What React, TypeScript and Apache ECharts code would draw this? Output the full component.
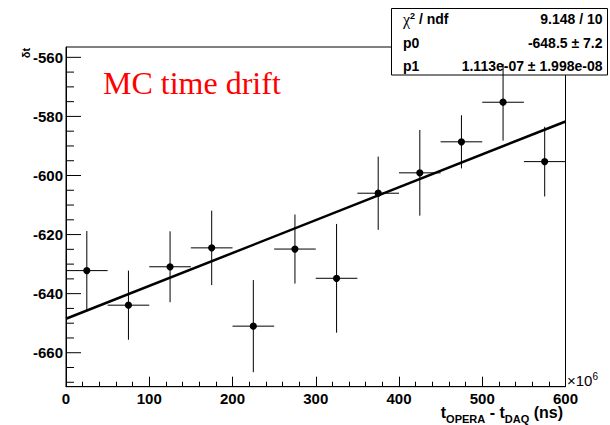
import React, { useEffect, useRef } from "react";
import * as echarts from "echarts";

// ---- data ----
const xCenters = [25, 75, 125, 175, 225, 275, 325, 375, 425, 475, 525, 575];
const xHalfWidth = 25;
const yValues = [-632.2, -643.9, -630.9, -624.5, -651.0, -624.9, -634.8, -606.0, -599.1, -588.6, -575.2, -595.3];
const yErrors = [13.4, 11.7, 12.0, 12.6, 15.6, 11.7, 18.4, 12.4, 14.5, 9.0, 13.0, 11.8];
const fitX = [0, 600];
const fitY = [-648.5, -581.72];
const yTickLabels = [-560, -580, -600, -620, -640, -660];
const yMinorStep = 5;
const yMin = -671.5;
const yMax = -556.5;
const statsLeft = ["{g|χ}{s|2}{b| / ndf}", "p0", "p1"];
const statsRight = ["9.148 / 10", "-648.5 ± 7.2", "1.113e-07 ± 1.998e-08"];

const SANS = "Liberation Sans, Arial, sans-serif";
const SERIF = "Liberation Serif, Times New Roman, serif";

export default function App() {
  const ref = useRef<HTMLDivElement>(null);

  useEffect(() => {
    if (!ref.current) return;
    const chart = echarts.init(ref.current, undefined, { renderer: "svg" });

    const minorTicks: number[] = [];
    for (let v = -670; v <= -560; v += yMinorStep) {
      if (v % 20 !== 0) minorTicks.push(v);
    }

    const statsChildren: any[] = [
      {
        type: "rect",
        shape: { x: 391.5, y: 8.5, width: 216, height: 66.5 },
        style: { fill: "#fff", stroke: "#000", lineWidth: 1 },
      },
    ];
    const rowY = [19, 42.5, 65.5];
    statsLeft.forEach((t, i) => {
      statsChildren.push({
        type: "text",
        style: {
          text: t,
          x: 403,
          y: rowY[i],
          align: "left",
          verticalAlign: "middle",
          fontSize: 14,
          fontWeight: "bold",
          fontFamily: SANS,
          fill: "#000",
          rich: {
            g: { fontFamily: SERIF, fontSize: 16, fontWeight: "normal", fill: "#000" },
            s: { fontFamily: SANS, fontSize: 9, fontWeight: "bold", fill: "#000", verticalAlign: "top", lineHeight: 12 },
            b: { fontFamily: SANS, fontSize: 14, fontWeight: "bold", fill: "#000" },
          },
        },
      });
    });
    statsRight.forEach((t, i) => {
      statsChildren.push({
        type: "text",
        style: {
          text: t,
          x: 602.5,
          y: rowY[i],
          align: "right",
          verticalAlign: "middle",
          fontSize: 14,
          fontWeight: "bold",
          fontFamily: SANS,
          fill: "#000",
        },
      });
    });

    const option: any = {
      animation: false,
      backgroundColor: "#fff",
      grid: {
        left: 66,
        right: 44.5,
        top: 47,
        bottom: 38.3,
        show: true,
        borderColor: "#000",
        borderWidth: 1,
        backgroundColor: "#fff",
      },
      xAxis: {
        type: "value",
        min: 0,
        max: 600,
        interval: 100,
        axisLine: { show: true, onZero: false, lineStyle: { color: "#000", width: 1 } },
        axisTick: { show: true, inside: true, length: 10, lineStyle: { color: "#000" } },
        minorTick: { show: true, splitNumber: 5, length: 5, lineStyle: { color: "#000" } },
        splitLine: { show: false },
        minorSplitLine: { show: false },
        axisLabel: {
          show: true,
          margin: 4,
          color: "#000",
          fontFamily: SANS,
          fontWeight: "bold",
          fontSize: 15,
          showMinLabel: true,
          showMaxLabel: true,
        },
      },
      yAxis: {
        type: "value",
        min: yMin,
        max: yMax,
        axisLine: { show: true, onZero: false, lineStyle: { color: "#000", width: 1 } },
        axisTick: { show: false },
        axisLabel: { show: false },
        splitLine: { show: false },
      },
      series: [
        {
          type: "custom",
          name: "yMajor",
          silent: true,
          clip: false,
          z: 3,
          data: yTickLabels.map((v) => [0, v]),
          renderItem: (params: any, api: any) => {
            const v = api.value(1);
            const p = api.coord([0, v]);
            return {
              type: "group",
              children: [
                {
                  type: "line",
                  shape: { x1: p[0], y1: p[1], x2: p[0] + 15, y2: p[1] },
                  style: { stroke: "#000", lineWidth: 1 },
                },
                {
                  type: "text",
                  style: {
                    text: String(v),
                    x: p[0] - 3,
                    y: p[1],
                    align: "right",
                    verticalAlign: "middle",
                    fontSize: 15,
                    fontWeight: "bold",
                    fontFamily: SANS,
                    fill: "#000",
                  },
                },
              ],
            };
          },
        },
        {
          type: "custom",
          name: "yMinor",
          silent: true,
          clip: false,
          z: 3,
          data: minorTicks.map((v) => [0, v]),
          renderItem: (params: any, api: any) => {
            const p = api.coord([0, api.value(1)]);
            return {
              type: "line",
              shape: { x1: p[0], y1: p[1], x2: p[0] + 8, y2: p[1] },
              style: { stroke: "#000", lineWidth: 1 },
            };
          },
        },
        {
          type: "line",
          name: "fit",
          data: fitX.map((x, i) => [x, fitY[i]]),
          showSymbol: false,
          symbol: "none",
          lineStyle: { color: "#000", width: 2.5 },
          z: 4,
          silent: true,
        },
        {
          type: "custom",
          name: "data",
          silent: true,
          z: 5,
          clip: false,
          data: xCenters.map((x, i) => [x, yValues[i], yErrors[i]]),
          encode: { x: 0, y: 1 },
          renderItem: (params: any, api: any) => {
            const x = api.value(0);
            const y = api.value(1);
            const e = api.value(2);
            const c = api.coord([x, y]);
            const l = api.coord([x - xHalfWidth, y]);
            const r = api.coord([x + xHalfWidth, y]);
            const t = api.coord([x, y + e]);
            const b = api.coord([x, y - e]);
            return {
              type: "group",
              children: [
                {
                  type: "line",
                  shape: { x1: l[0], y1: c[1], x2: r[0], y2: c[1] },
                  style: { stroke: "#000", lineWidth: 1 },
                },
                {
                  type: "line",
                  shape: { x1: c[0], y1: t[1], x2: c[0], y2: b[1] },
                  style: { stroke: "#000", lineWidth: 1 },
                },
                {
                  type: "circle",
                  shape: { cx: c[0], cy: c[1], r: 3.6 },
                  style: { fill: "#000" },
                },
              ],
            };
          },
        },
      ],
      graphic: {
        elements: [
          {
            type: "text",
            z: 50,
            style: {
              text: "MC time drift",
              x: 103,
              y: 83,
              align: "left",
              verticalAlign: "middle",
              fontFamily: SERIF,
              fontSize: 32,
              fill: "#ff0000",
            },
          },
          {
            type: "text",
            z: 50,
            x: 26,
            y: 53,
            rotation: Math.PI / 2,
            style: {
              text: "δt",
              x: 0,
              y: 0,
              align: "center",
              verticalAlign: "middle",
              fontFamily: SANS,
              fontSize: 11,
              fontWeight: "bold",
              fill: "#000",
            },
          },
          {
            type: "text",
            z: 50,
            style: {
              text: "{m|t}{s|OPERA}{m| - t}{s|DAQ}{m| (ns)}",
              x: 563,
              y: 412,
              align: "right",
              verticalAlign: "middle",
              fill: "#000",
              rich: {
                m: { fontFamily: SANS, fontSize: 16, fontWeight: "bold", fill: "#000", lineHeight: 24 },
                s: { fontFamily: SANS, fontSize: 11, fontWeight: "bold", fill: "#000", lineHeight: 11, verticalAlign: "bottom" },
              },
            },
          },
          {
            type: "text",
            z: 50,
            style: {
              text: "{m|×10}{s|6}",
              x: 567,
              y: 380,
              align: "left",
              verticalAlign: "middle",
              fill: "#000",
              rich: {
                m: { fontFamily: SANS, fontSize: 15, fill: "#000", lineHeight: 18 },
                s: { fontFamily: SANS, fontSize: 10, fill: "#000", lineHeight: 10, verticalAlign: "top" },
              },
            },
          },
          {
            type: "group",
            z: 100,
            children: statsChildren,
          },
        ],
      },
    };

    chart.setOption(option);
    return () => {
      chart.dispose();
    };
  }, []);

  return (
    <div
      ref={ref}
      style={{ position: "absolute", left: 0, top: 0, width: 610, height: 425, background: "#fff" }}
    />
  );
}
